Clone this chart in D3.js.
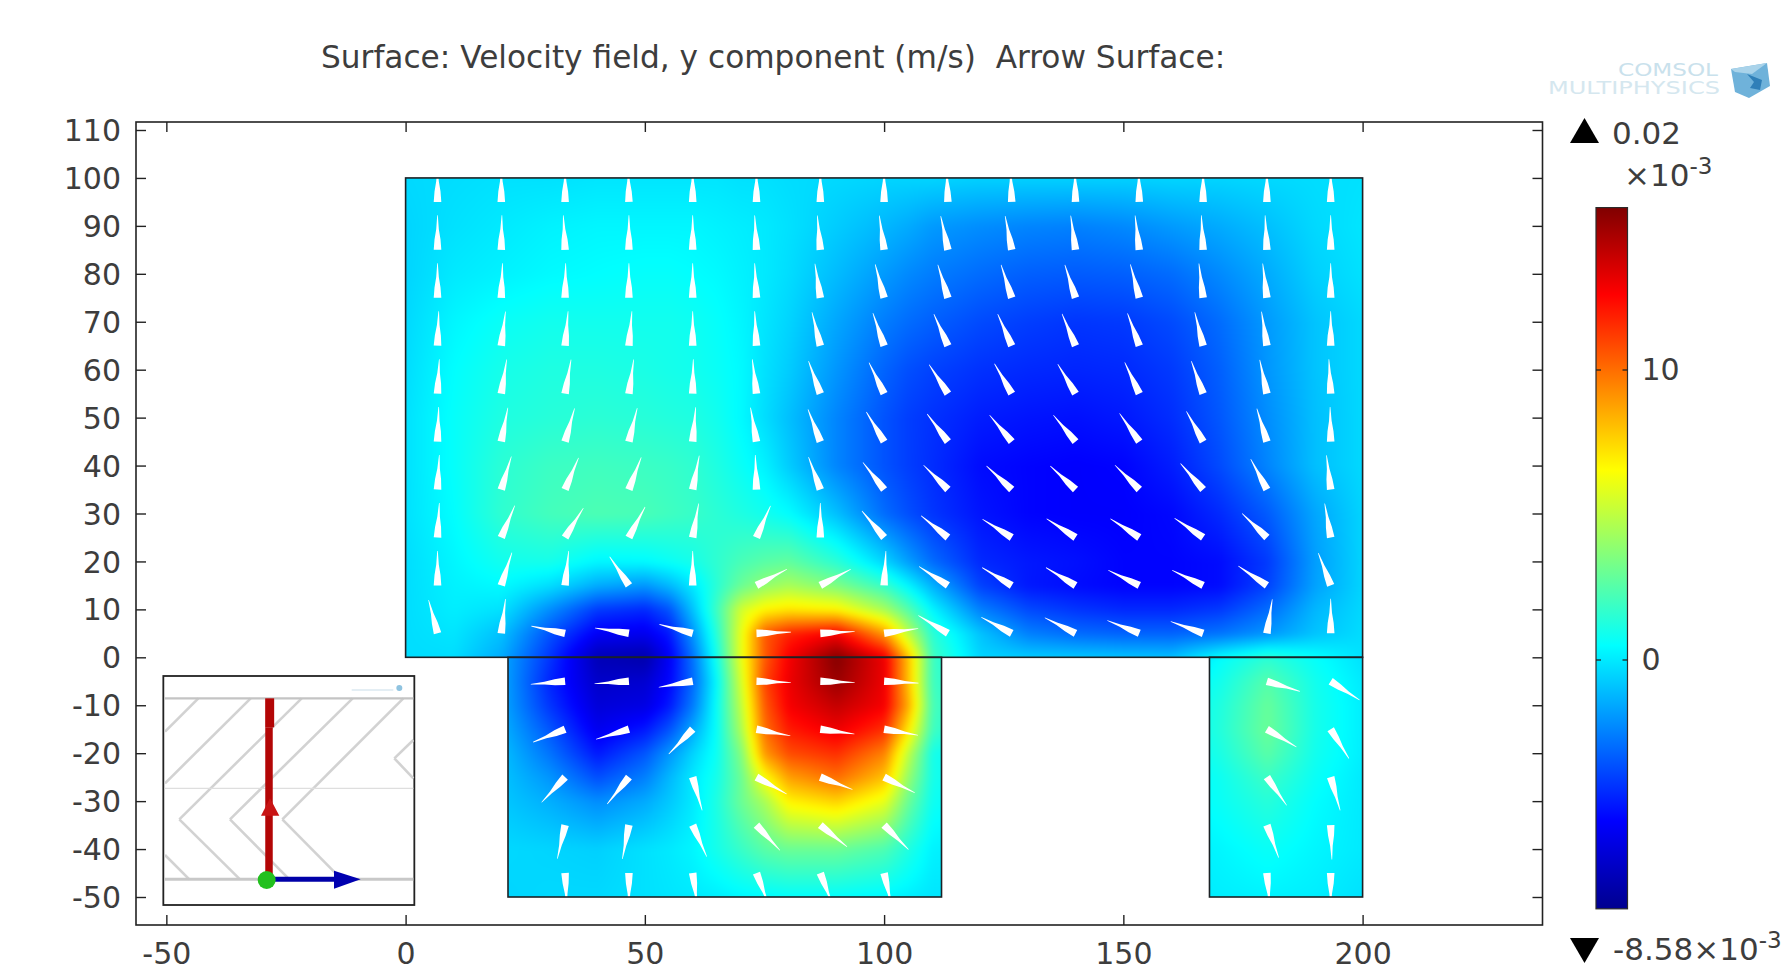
<!DOCTYPE html>
<html>
<head>
<meta charset="utf-8">
<script src="https://cdnjs.cloudflare.com/ajax/libs/d3/7.8.5/d3.min.js"></script>
<style>
  html, body { margin: 0; padding: 0; background: #fff; overflow: hidden; }
  text { font-family: "DejaVu Sans", sans-serif; fill: #3d3d3d; }
</style>
</head>
<body>
<div id="graph"><svg></svg></div>
<script>
// tick labels
let xTicks = [-50, 0, 50, 100, 150, 200];
let yTicks = [-50, -40, -30, -20, -10, 0, 10, 20, 30, 40, 50, 60, 70, 80, 90, 100, 110];
let colorTicks = [0, 10];

// the three domains: [x0, x1, y0, y1]
let domains = [
  [0, 200, 0, 100],
  [21.4, 112, -50, 0],
  [168, 200, -50, 0],
];

// velocity y component (x10^-3 m/s). n = no geometry there
let n = null;
let gridX = [0, 10, 20, 30, 40, 50, 55, 60, 65, 70, 75, 80, 90, 100, 105, 110, 120, 130, 140, 150, 160, 170, 180, 190, 200];
let gridY = [100, 90, 80, 70, 60, 50, 40, 30, 20, 15, 10, 5, 0, -5, -10, -15, -20, -25, -30, -40, -50];
let fieldValues = [
  [-.4, -.3, -.2, -.2, -.1, -.1, -.1, -.1, -.1, -.2, -.2, -.3, -.4, -.5, -.5, -.5, -.6, -.6, -.6, -.6, -.5, -.5, -.4, -.3, -.2],
  [-.5, -.2, 0, .2, .3, .3, .3, .3, .2, .1, 0, -.2, -.7, -1.2, -1.5, -1.9, -2.2, -2.4, -2.5, -2.3, -1.9, -1.5, -1, -.4, -.1],
  [-.5, 0, .2, .4, .5, .6, .6, .5, .4, .2, 0, -.3, -1.1, -1.9, -2.3, -2.6, -3, -3.3, -3.4, -3.3, -3, -2.3, -1.5, -.6, -.2],
  [-.4, .3, .7, .9, .9, .9, .9, .8, .6, .3, -.1, -.5, -1.6, -2.6, -3, -3.3, -3.8, -4.1, -4.3, -4.2, -3.8, -3, -1.9, -.9, -.4],
  [-.3, .5, 1, 1.2, 1.2, 1.1, 1, .9, .7, .4, -.2, -.7, -2, -3.2, -3.7, -4, -4.4, -4.6, -4.7, -4.6, -4.2, -3.3, -2, -.9, -.4],
  [-.2, .6, 1.2, 1.4, 1.5, 1.4, 1.3, 1.2, .9, .4, -.3, -1, -2.4, -3.6, -4.1, -4.4, -4.9, -5.1, -5.2, -5, -4.5, -3.5, -2.2, -1, -.4],
  [-.2, .6, 1.5, 1.9, 2, 1.9, 1.8, 1.6, 1.2, .7, .2, -.7, -2.4, -3.6, -4.1, -4.5, -5.3, -5.5, -5.6, -5.5, -4.9, -3.8, -2.4, -1, -.4],
  [-.2, .5, 1.6, 2.1, 2.3, 2.2, 2, 1.8, 1.5, 1.2, .9, .5, -1, -3, -3.7, -4.3, -5.1, -5.5, -5.6, -5.6, -5.4, -4.6, -3.4, -1.6, -.5],
  [-.3, .3, .9, 1, .3, .4, .7, 1, 1.6, 2.2, 2.6, 2.8, 1.5, -.5, -1.8, -3, -4.6, -5, -5.2, -5.5, -5.5, -5.3, -4.2, -1.8, -.5],
  [-.3, .2, .4, -.3, -1.5, -2, -1.2, 0, 1.5, 3, 4, 4.5, 3.5, 1.8, .3, -1.3, -4, -5, -5.3, -5.5, -5.5, -5.3, -4, -1.7, -.5],
  [-.3, .1, -.2, -2.2, -4.2, -4.6, -3.6, -.9, 2, 5.5, 6.8, 7.2, 6.8, 4.5, 2.5, .3, -2.5, -3.8, -4.3, -4.6, -4.6, -4.2, -3, -1.2, -.4],
  [-.3, -.1, -1, -3.6, -5.8, -6, -5, -2, 1.5, 6, 10.5, 11.8, 12.8, 9, 5, 1.5, -.9, -2.5, -3, -3.2, -3.2, -2.8, -2, -.9, -.3],
  [-.3, -.3, -1.5, -4.3, -7.5, -7.8, -5.8, -2.8, 1, 6, 10.5, 12.8, 15.5, 13, 8, 2, -.5, -.7, -.8, -.9, -1, .5, 1.5, .6, -.2],
  [n, n, -1.5, -4.7, -7, -6.8, -5.5, -3, .5, 5.5, 11, 13, 15, 13, 8, 2, .5, n, n, n, 0, .9, 2.5, .9, 0],
  [n, n, -1.5, -4.3, -6.6, -6.3, -5, -2.6, .7, 5, 10.5, 12.8, 14, 12.8, 8.5, 2.2, .5, n, n, n, .2, 1.2, 2.9, 1, .1],
  [n, n, -1.3, -3.5, -6, -5, -3.6, -1.5, .7, 4.5, 10, 12, 13, 11.5, 7, 2, .5, n, n, n, .2, 1.3, 3, 1, .1],
  [n, n, -1, -2.8, -5, -3.5, -2, -.5, .8, 3.5, 9, 10.8, 11.5, 9.5, 5, 1, .3, n, n, n, .2, 1.1, 2.6, .9, .1],
  [n, n, -.9, -2, -3.7, -2.5, -1.2, 0, 1, 3, 6.5, 8.8, 10, 8, 4, 1, .3, n, n, n, .1, .8, 1.9, .7, 0],
  [n, n, -.8, -1.4, -2.2, -1.5, -.8, 0, 1.2, 3, 4.5, 6.8, 7.6, 6, 3, .8, .2, n, n, n, .1, .7, 1.4, .5, 0],
  [n, n, -.4, -.5, -.6, -.2, 0, .3, 1, 1.8, 2.6, 3, 3, 2.3, 1.2, .2, .1, n, n, n, 0, .3, .7, .3, 0],
  [n, n, -.5, -.4, -.4, -.2, -.1, 0, .1, .3, .4, .5, .5, .3, .1, -.1, -.1, n, n, n, -.1, .1, .2, .1, -.2],
];

// arrows: bearing in degrees, 0 = up, positive = clockwise
let arrowX = [6.67, 20, 33.33, 46.67, 60, 73.33, 86.67, 100, 113.33, 126.67, 140, 153.33, 166.67, 180, 193.33];
let arrowY = [95, 85, 75, 65, 55, 45, 35, 25, 15, 5, -5, -15, -25, -35, -45];
let arrowAngles = [
  [0, 0, 0, -1, 0, 0, 0, 0, -2, -2, -1, -1, 0, 0, 0],
  [0, 1, -3, 0, 0, -3, -5, -8, -12, -11, -8, -7, -3, -3, 0],
  [0, 2, 1, 0, 0, -3, -9, -15, -17, -18, -18, -15, -7, -7, 0],
  [2, 7, 5, 5, 0, -3, -14, -19, -24, -24, -23, -20, -14, -9, 0],
  [3, 9, 10, 8, 1, -7, -20, -26, -33, -30, -31, -25, -20, -12, -3],
  [2, 11, 16, 14, 5, -10, -21, -31, -37, -40, -40, -35, -29, -17, -1],
  [3, 17, 23, 21, 11, -2, -20, -38, -45, -47, -47, -45, -41, -28, -7],
  [3, 23, 32, 28, 10, 24, 0, -40, -51, -58, -57, -57, -56, -46, -10],
  [0, 18, 6, -34, 0, 62, 62, 3, -57, -59, -59, -64, -64, -56, -21],
  [-15, 7, -78, -81, -75, 88, 87, 82, -59, -62, -63, -68, -70, 9, 0],
  [n, n, -95, -94, -100, 92, 92, 93, n, n, n, n, n, 107, 123],
  [n, n, -112, -107, -136, 101, 98, 100, n, n, n, n, n, 121, 148],
  [n, n, -137, -141, 164, 119, 111, 117, n, n, n, n, n, 145, 164],
  [n, n, -167, -169, 156, 137, 129, 135, n, n, n, n, n, 160, 178],
  [n, n, 177, 180, 172, 159, 159, 167, n, n, n, n, n, 175, 180],
];

// rainbow colour table
let colorStops = [-8.58, -5.55, 0.5, 6.55, 12.6, 15.6];
let colorNames = ["#00008f", "#0000ff", "#00ffff", "#ffff00", "#ff0000", "#800000"];

// inset thumbnail, in its own coordinates
let insetChevrons = [
  [[105, 245], [205, 145]], [[105, 400], [362, 145]], [[148, 508], [515, 145]],
  [[300, 508], [668, 145]], [[457, 508], [820, 145]], [[148, 508], [330, 688]],
  [[300, 508], [478, 688]], [[457, 508], [635, 688]], [[105, 615], [178, 688]],
  [[793, 325], [850, 270]], [[793, 325], [850, 385]],
];

let width = 1781, height = 964;
let plot = { left: 136, right: 1542.5, top: 122, bottom: 925 };

let svg = d3.select("#graph svg").attr("width", width).attr("height", height)
  .style("display", "block");

let xScale = d3.scaleLinear().domain([0, 200]).range([405.6, 1362.6]);
let yScale = d3.scaleLinear().domain([-50, 110]).range([897, 130]);
let colorScale = d3.scaleLinear().domain(colorStops).range(colorNames);
let barScale = d3.scaleLinear().domain([0, 10]).range([660, 370]);

// clip to the geometry
svg.append("clipPath").attr("id", "geom")
  .selectAll("rect").data(domains).enter().append("rect")
  .attr("x", d => xScale(d[0]))
  .attr("y", d => yScale(d[3]))
  .attr("width", d => xScale(d[1]) - xScale(d[0]))
  .attr("height", d => yScale(d[2]) - yScale(d[3]));

// looks up the surface value at a data position, skips corners without geometry
let byDescending = d3.bisector(d => -d);
function fieldAt(px, py) {
  let i = Math.min(Math.max(d3.bisectRight(gridX, px) - 1, 0), gridX.length - 2);
  let j = Math.min(Math.max(byDescending.right(gridY, -py) - 1, 0), gridY.length - 2);
  let tx = Math.min(Math.max((px - gridX[i]) / (gridX[i + 1] - gridX[i]), 0), 1);
  let ty = Math.min(Math.max((py - gridY[j]) / (gridY[j + 1] - gridY[j]), 0), 1);
  let corners = [
    [fieldValues[j][i], (1 - tx) * (1 - ty)],
    [fieldValues[j][i + 1], tx * (1 - ty)],
    [fieldValues[j + 1][i], (1 - tx) * ty],
    [fieldValues[j + 1][i + 1], tx * ty],
  ];
  let sum = 0, w = 0;
  corners.forEach(c => {
    if (c[0] !== null) { sum += c[0] * c[1]; w += c[1]; }
  });
  return w > 0 ? sum / w : 0;
}

// paint the surface, smooth it, put it in the svg as an image
let surfW = Math.ceil(plot.right - plot.left), surfH = Math.ceil(plot.bottom - plot.top);
let raw = document.createElement("canvas");
raw.width = surfW; raw.height = surfH;
let rawCtx = raw.getContext("2d");
let image = rawCtx.createImageData(surfW, surfH);
for (let r = 0; r < surfH; r++) {
  let py = yScale.invert(plot.top + r);
  for (let c = 0; c < surfW; c++) {
    let col = d3.rgb(colorScale(fieldAt(xScale.invert(plot.left + c), py)));
    let k = 4 * (r * surfW + c);
    image.data[k] = col.r; image.data[k + 1] = col.g; image.data[k + 2] = col.b; image.data[k + 3] = 255;
  }
}
rawCtx.putImageData(image, 0, 0);
let smooth = document.createElement("canvas");
smooth.width = surfW; smooth.height = surfH;
let smoothCtx = smooth.getContext("2d");
smoothCtx.filter = "blur(3px)";
smoothCtx.drawImage(raw, 0, 0);

svg.append("g").attr("clip-path", "url(#geom)")
  .append("image")
  .attr("x", plot.left).attr("y", plot.top)
  .attr("width", surfW).attr("height", surfH)
  .attr("href", smooth.toDataURL());

// arrows, wide at the anchor and narrowing quickly towards the tip
let arrowLength = 7.2; // data units
let arrowProfile = [[0, 3.8], [0.3, 3], [0.6, 1.3], [1, 0.3]];
let arrows = [];
arrowAngles.forEach((row, j) => row.forEach((a, i) => {
  if (a !== null) arrows.push({ x: arrowX[i], y: arrowY[j], a: a });
}));
svg.append("g").attr("clip-path", "url(#geom)")
  .selectAll("path").data(arrows).enter().append("path")
  .attr("fill", "#fff")
  .attr("d", d => {
    let rad = d.a * Math.PI / 180;
    let x0 = xScale(d.x), y0 = yScale(d.y);
    let x1 = xScale(d.x + arrowLength * Math.sin(rad)), y1 = yScale(d.y + arrowLength * Math.cos(rad));
    let nx = Math.cos(rad), ny = Math.sin(rad);
    let pts = arrowProfile.map(p => [x0 + p[0] * (x1 - x0) + p[1] * nx, y0 + p[0] * (y1 - y0) + p[1] * ny]);
    let back = arrowProfile.slice().reverse().map(p => [x0 + p[0] * (x1 - x0) - p[1] * nx, y0 + p[0] * (y1 - y0) - p[1] * ny]);
    return d3.line()(pts.concat(back)) + "Z";
  });

// geometry outlines
svg.append("g").selectAll("rect").data(domains).enter().append("rect")
  .attr("x", d => xScale(d[0]))
  .attr("y", d => yScale(d[3]))
  .attr("width", d => xScale(d[1]) - xScale(d[0]))
  .attr("height", d => yScale(d[2]) - yScale(d[3]))
  .attr("fill", "none").attr("stroke", "#1c2226").attr("stroke-width", 1.6);

// plot frame
svg.append("rect")
  .attr("x", plot.left).attr("y", plot.top)
  .attr("width", plot.right - plot.left).attr("height", plot.bottom - plot.top)
  .attr("fill", "none").attr("stroke", "#222").attr("stroke-width", 1.6);

function styleAxis(g) {
  g.select(".domain").remove();
  g.selectAll(".tick line").attr("stroke", "#222").attr("stroke-width", 1.4);
  g.selectAll("text").style("font-size", "30px").style("fill", "#3d3d3d");
}

svg.append("g").attr("transform", "translate(0," + plot.bottom + ")")
  .call(d3.axisBottom(xScale).tickValues(xTicks).tickSize(-10).tickPadding(18).tickFormat(d => d))
  .call(styleAxis);
svg.append("g").attr("transform", "translate(0," + plot.top + ")")
  .call(d3.axisTop(xScale).tickValues(xTicks).tickSize(-10).tickFormat(""))
  .call(styleAxis);
svg.append("g").attr("transform", "translate(" + plot.left + ",1)")
  .call(d3.axisLeft(yScale).tickValues(yTicks).tickSize(-10).tickPadding(15).tickFormat(d => d))
  .call(styleAxis)
  .selectAll(".tick line").attr("transform", "translate(0,-1)");
svg.append("g").attr("transform", "translate(" + plot.right + ",0)")
  .call(d3.axisRight(yScale).tickValues(yTicks).tickSize(-10).tickFormat(""))
  .call(styleAxis);

// title
svg.append("text").attr("x", 321).attr("y", 68)
  .style("font-size", "31.2px")
  .style("white-space", "pre")
  .text("Surface: Velocity field, y component (m/s)  Arrow Surface:");

// colour bar
let grad = svg.append("defs").append("linearGradient").attr("id", "bar")
  .attr("x1", 0).attr("y1", 1).attr("x2", 0).attr("y2", 0);
let barMin = colorStops[0], barMax = colorStops[colorStops.length - 1];
grad.selectAll("stop").data(colorStops).enter().append("stop")
  .attr("offset", d => (d - barMin) / (barMax - barMin))
  .attr("stop-color", d => colorScale(d));
svg.append("rect")
  .attr("x", 1596).attr("width", 31.5)
  .attr("y", barScale(barMax)).attr("height", barScale(barMin) - barScale(barMax))
  .attr("fill", "url(#bar)").attr("stroke", "#2b2b2b").attr("stroke-width", 1.2);
svg.append("g").attr("transform", "translate(1627.5,0)")
  .call(d3.axisRight(barScale).tickValues(colorTicks).tickSize(0).tickPadding(14).tickFormat(d => d))
  .call(styleAxis);
// small inward marks on both sides of the bar
[[1596, 1601], [1622.5, 1627.5]].forEach(s => {
  svg.append("g").selectAll("line").data(colorTicks).enter().append("line")
    .attr("x1", s[0]).attr("x2", s[1])
    .attr("y1", d => barScale(d)).attr("y2", d => barScale(d))
    .attr("stroke", "#222").attr("stroke-width", 1.3);
});

svg.append("path").attr("d", "M1570,143L1584.5,118L1599,143Z").attr("fill", "#000");
svg.append("path").attr("d", "M1570,938L1584.5,963L1599,938Z").attr("fill", "#000");
svg.append("text").attr("x", 1612).attr("y", 144).style("font-size", "31px").text("0.02");
let expTop = svg.append("text").attr("x", 1624).attr("y", 186).style("font-size", "31px");
expTop.append("tspan").text("\u00d710");
expTop.append("tspan").attr("dy", -12).style("font-size", "23px").text("-3");
let expBot = svg.append("text").attr("x", 1613).attr("y", 960).style("font-size", "31px");
expBot.append("tspan").text("-8.58\u00d710");
expBot.append("tspan").attr("dy", -12).style("font-size", "23px").text("-3");

// logo
let logo = svg.append("g");
logo.append("text").attr("x", 1618).attr("y", 76).attr("textLength", 100)
  .attr("lengthAdjust", "spacingAndGlyphs")
  .style("font-size", "17px").style("fill", "#c9e1ec").text("COMSOL");
logo.append("text").attr("x", 1548).attr("y", 94).attr("textLength", 172)
  .attr("lengthAdjust", "spacingAndGlyphs")
  .style("font-size", "17px").style("fill", "#d5e7ef").text("MULTIPHYSICS");
logo.append("path").attr("d", "M1731,69L1767,63L1770,86L1749,98L1735,92Z").attr("fill", "#6fb2da");
logo.append("path").attr("d", "M1731,69L1767,63L1752,74L1735,72Z").attr("fill", "#a9d3ea");
logo.append("path").attr("d", "M1747,74L1762,80L1760,90L1750,88L1754,82Z").attr("fill", "#2f7fb8");

// inset
let ix = d3.scaleLinear().domain([0, 960]).range([130, 450]);
let iy = d3.scaleLinear().domain([0, 840]).range([650, 930]);
let inset = svg.append("g");
inset.append("rect")
  .attr("x", ix(100)).attr("y", iy(78))
  .attr("width", ix(853) - ix(100)).attr("height", iy(765) - iy(78))
  .attr("fill", "#fff").attr("stroke", "#222").attr("stroke-width", 1.8);
inset.selectAll(".chev").data(insetChevrons).enter().append("line")
  .attr("class", "chev")
  .attr("x1", d => ix(d[0][0])).attr("y1", d => iy(d[0][1]))
  .attr("x2", d => ix(d[1][0])).attr("y2", d => iy(d[1][1]))
  .attr("stroke", "#d2d2d2").attr("stroke-width", 2.6);
[[145, 2.4, "#c4c4c4"], [415, 1.4, "#dedede"], [688, 3, "#c8c8c8"]].forEach(h => {
  inset.append("line").attr("x1", ix(104)).attr("x2", ix(850))
    .attr("y1", iy(h[0])).attr("y2", iy(h[0]))
    .attr("stroke", h[2]).attr("stroke-width", h[1]);
});
inset.append("circle").attr("cx", ix(808)).attr("cy", iy(114)).attr("r", 3).attr("fill", "#8fc3e0");
inset.append("line").attr("x1", ix(665)).attr("x2", ix(790)).attr("y1", iy(120)).attr("y2", iy(120))
  .attr("stroke", "#dbe9f1").attr("stroke-width", 1.5);
inset.append("line").attr("x1", ix(419)).attr("x2", ix(419)).attr("y1", iy(145)).attr("y2", iy(232))
  .attr("stroke", "#b30606").attr("stroke-width", 9);
inset.append("line").attr("x1", ix(417)).attr("x2", ix(417)).attr("y1", iy(232)).attr("y2", iy(690))
  .attr("stroke", "#b30606").attr("stroke-width", 7.5);
inset.append("path")
  .attr("d", "M" + ix(393) + "," + iy(497) + "L" + ix(420) + "," + iy(445) + "L" + ix(448) + "," + iy(497) + "Z")
  .attr("fill", "#c81414");
inset.append("line").attr("x1", ix(420)).attr("x2", ix(630)).attr("y1", iy(688)).attr("y2", iy(688))
  .attr("stroke", "#0000a8").attr("stroke-width", 5);
inset.append("path")
  .attr("d", "M" + ix(612) + "," + iy(662) + "L" + ix(692) + "," + iy(688) + "L" + ix(612) + "," + iy(716) + "Z")
  .attr("fill", "#0000b0");
inset.append("circle").attr("cx", ix(410)).attr("cy", iy(690)).attr("r", 9).attr("fill", "#22c01e");
</script>
</body>
</html>
